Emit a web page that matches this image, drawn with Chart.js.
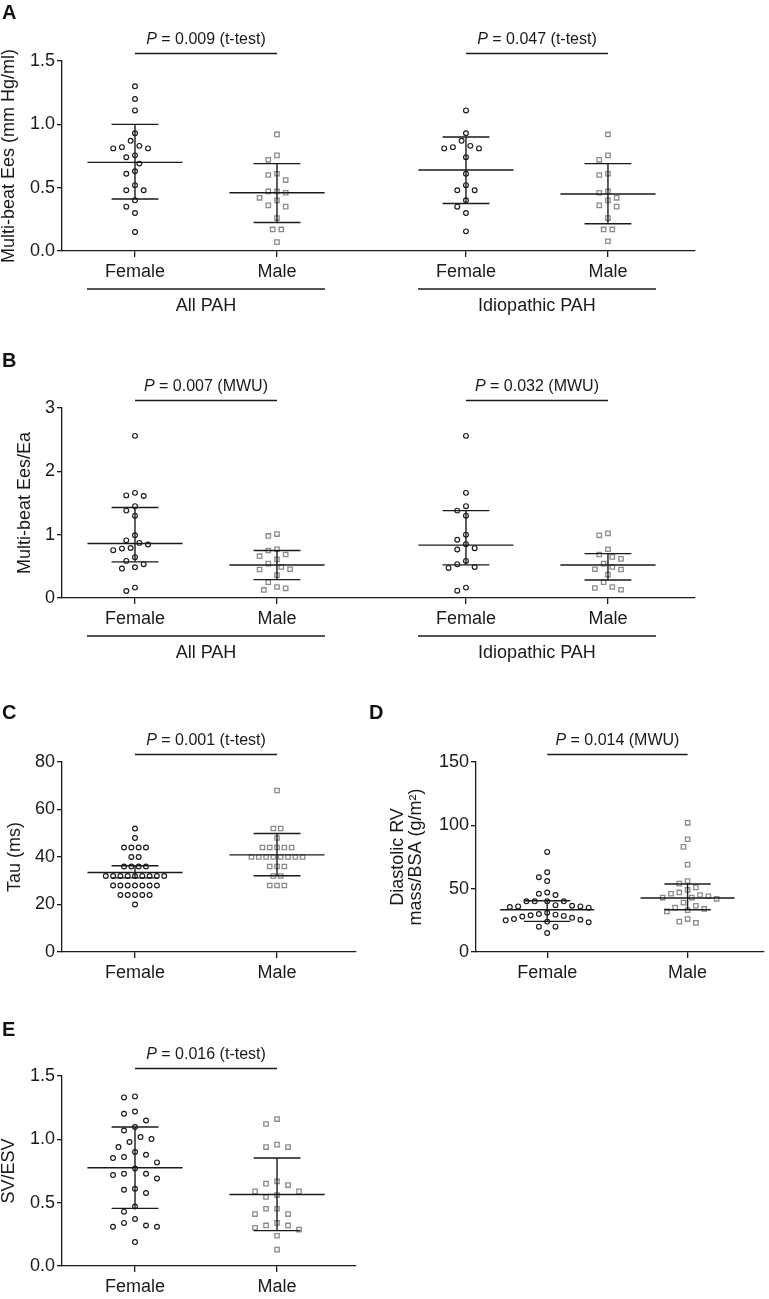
<!DOCTYPE html>
<html>
<head>
<meta charset="utf-8">
<script src="https://cdn.jsdelivr.net/npm/chart.js@4.4.1/dist/chart.umd.min.js"></script>
<style>
  body { margin: 0; background: #fff; }
  #fig { position: relative; width: 769px; height: 1299px; overflow: hidden; font-family: 'Liberation Sans', Arial, sans-serif; }
  #fig canvas { position: absolute; }
  .letter { position: absolute; font-weight: bold; font-size: 20px; line-height: 20px; color: #111; }
</style>
</head>
<body>
<div id="fig">
  <canvas id="chartA" width="769" height="320" style="left:0;top:0"></canvas>
  <canvas id="chartB" width="769" height="350" style="left:0;top:320px"></canvas>
  <canvas id="chartC" width="380" height="320" style="left:0;top:680px"></canvas>
  <canvas id="chartD" width="389" height="320" style="left:380px;top:680px"></canvas>
  <canvas id="chartE" width="380" height="299" style="left:0;top:1000px"></canvas>
  <div class="letter" style="left:2px;top:2px">A</div>
  <div class="letter" style="left:2px;top:350px">B</div>
  <div class="letter" style="left:2px;top:702px">C</div>
  <div class="letter" style="left:369px;top:702px">D</div>
  <div class="letter" style="left:2px;top:1019px">E</div>
</div>
<script>
// ---- data ----
const sexLabels = ['Female', 'Male']

// A: multi-beat Ees (mm Hg/ml)
const eesFemaleAll = [1.30, 1.20, 1.11, 0.93, 0.87, 0.83, 0.82, 0.81, 0.81, 0.755, 0.74, 0.69, 0.63, 0.61, 0.52, 0.48, 0.48, 0.40, 0.35, 0.30, 0.15]
const eesMaleAll = [0.92, 0.755, 0.72, 0.61, 0.60, 0.56, 0.47, 0.47, 0.46, 0.42, 0.40, 0.36, 0.35, 0.26, 0.17, 0.17, 0.07]
const eesFemaleIdio = [1.11, 0.93, 0.87, 0.83, 0.82, 0.81, 0.81, 0.74, 0.61, 0.52, 0.48, 0.48, 0.40, 0.35, 0.30, 0.155]
const eesMaleIdio = [0.92, 0.755, 0.72, 0.61, 0.60, 0.47, 0.46, 0.42, 0.40, 0.36, 0.35, 0.26, 0.17, 0.17, 0.077]
// [centre, lower, upper] of the error bars
const eesFemaleAllBar = [0.70, 0.41, 1.00]
const eesMaleAllBar = [0.46, 0.225, 0.69]
const eesFemaleIdioBar = [0.64, 0.375, 0.90]
const eesMaleIdioBar = [0.45, 0.215, 0.69]

// B: multi-beat Ees/Ea
const ratioFemaleAll = [2.56, 1.66, 1.62, 1.61, 1.45, 1.38, 1.30, 0.99, 0.91, 0.87, 0.845, 0.79, 0.78, 0.755, 0.645, 0.586, 0.534, 0.486, 0.465, 0.164, 0.111]
const ratioMaleAll = [1.01, 0.98, 0.77, 0.75, 0.687, 0.66, 0.61, 0.544, 0.49, 0.454, 0.45, 0.36, 0.25, 0.174, 0.153, 0.127]
const ratioFemaleIdio = [2.56, 1.66, 1.45, 1.38, 1.30, 1.00, 0.92, 0.85, 0.787, 0.766, 0.586, 0.534, 0.49, 0.475, 0.164, 0.116]
const ratioMaleIdio = [1.02, 0.99, 0.77, 0.687, 0.65, 0.618, 0.544, 0.49, 0.454, 0.45, 0.37, 0.25, 0.174, 0.158, 0.13]
const ratioFemaleAllBar = [0.86, 0.57, 1.43]
const ratioMaleAllBar = [0.52, 0.29, 0.75]
const ratioFemaleIdioBar = [0.835, 0.523, 1.38]
const ratioMaleIdioBar = [0.52, 0.285, 0.70]

// C: Tau (ms)
const tauFemale = [52, 48, 44, 44, 44, 44, 40, 40, 36, 36, 36, 36, 32, 32, 32, 32, 32, 32, 32, 32, 32, 28, 28, 28, 28, 28, 28, 28, 24, 24, 24, 24, 24, 20]
const tauMale = [68, 52, 52, 48, 44, 44, 44, 44, 44, 40, 40, 40, 40, 40, 40, 40, 40, 36, 36, 36, 32, 32, 28, 28, 28]
const tauFemaleBar = [33.5, 31.2, 36.3]
const tauMaleBar = [40.9, 32.1, 49.9]

// D: diastolic RV mass/BSA (g/m2)
const massFemale = [79, 63, 59, 56, 47, 46, 45, 40, 40, 40, 40, 37, 36.5, 36, 36, 35.5, 35, 31, 30, 29.5, 29, 28.5, 28, 27, 26, 25.5, 25, 24, 23.5, 20, 20, 15]
const massMale = [102, 89, 83, 69, 56, 54, 51, 49, 47, 46, 45, 44, 43, 43, 42, 39, 36.5, 35, 34, 33, 32, 26, 24, 23]
const massFemaleBar = [33.4, 24.2, 40.5]
const massMaleBar = [42.6, 33.4, 53.7]

// E: SV/ESV
const svFemale = [1.339, 1.331, 1.22, 1.202, 1.149, 1.097, 1.07, 1.018, 1.002, 0.979, 0.939, 0.90, 0.878, 0.86, 0.852, 0.818, 0.77, 0.728, 0.728, 0.718, 0.691, 0.61, 0.602, 0.576, 0.47, 0.429, 0.371, 0.34, 0.32, 0.31, 0.31, 0.189]
const svMale = [1.16, 1.121, 0.958, 0.939, 0.939, 0.668, 0.65, 0.639, 0.589, 0.589, 0.56, 0.545, 0.452, 0.452, 0.41, 0.41, 0.34, 0.32, 0.32, 0.302, 0.287, 0.239, 0.129]
const svFemaleBar = [0.776, 0.455, 1.097]
const svMaleBar = [0.565, 0.279, 0.853]

// ---- drawing ----
const FONT = "'Liberation Sans', Arial, Helvetica, sans-serif"
const INK = '#1a1a1a'
const GREY = '#8a8a8a'
const MEAN_HALF = 0.335
const CAP_HALF = 0.165

Chart.defaults.font.family = FONT
Chart.defaults.color = INK

const femaleStyle = { pointStyle: 'circle', pointRadius: 2.4, borderColor: INK, borderWidth: 1.15, backgroundColor: 'rgba(0,0,0,0)' }
const maleStyle = { pointStyle: 'rect', pointRadius: 3.1, borderColor: GREY, borderWidth: 1.3, backgroundColor: 'rgba(0,0,0,0)' }

function hline(ctx, x1, x2, y) {
  ctx.beginPath()
  ctx.moveTo(x1, y)
  ctx.lineTo(x2, y)
  ctx.stroke()
}

const notes = {
  id: 'notes',
  afterDraw(chart, args, opts) {
    const { ctx, chartArea } = chart
    const x = chart.scales.x
    ctx.save()
    ctx.strokeStyle = INK
    ctx.fillStyle = INK
    ctx.lineWidth = 1.3
    ctx.textBaseline = 'middle'
    for (const b of opts.brackets || []) {
      const x1 = x.getPixelForValue(b.from)
      const x2 = x.getPixelForValue(b.to)
      const y = chartArea.top - 7.5
      hline(ctx, x1, x2, y)
      const rest = ' = ' + b.text
      ctx.font = 'italic 16px ' + FONT
      const wp = ctx.measureText('P').width
      ctx.font = '16px ' + FONT
      const wr = ctx.measureText(rest).width
      const tx = (x1 + x2) / 2 - (wp + wr) / 2
      ctx.textAlign = 'left'
      ctx.font = 'italic 16px ' + FONT
      ctx.fillText('P', tx, y - 14)
      ctx.font = '16px ' + FONT
      ctx.fillText(rest, tx + wp, y - 14)
    }
    for (const g of opts.groups || []) {
      const x1 = x.getPixelForValue(g.from - 0.338)
      const x2 = x.getPixelForValue(g.to + 0.338)
      const y = chartArea.bottom + 38
      hline(ctx, x1, x2, y)
      ctx.font = '18px ' + FONT
      ctx.textAlign = 'center'
      ctx.fillText(g.text, (x1 + x2) / 2, y + 17)
    }
    ctx.restore()
  }
}

function barSegments(at, bar) {
  const [mid, lo, hi] = bar
  const gap = { x: at, y: null }
  return [
    { x: at - MEAN_HALF, y: mid }, { x: at + MEAN_HALF, y: mid }, gap,
    { x: at - CAP_HALF, y: hi }, { x: at + CAP_HALF, y: hi }, gap,
    { x: at - CAP_HALF, y: lo }, { x: at + CAP_HALF, y: lo }, gap,
    { x: at, y: lo }, { x: at, y: hi }
  ]
}

// spread the points sideways so they do not overlap (like a dot plot)
function swarm(chart, gapPx) {
  const xs = chart.scales.x
  const ys = chart.scales.y
  const step = gapPx / 2
  const hits = (p, off, others) => others.some(q => q !== p && Math.hypot(q.off - off, q.py - p.py) < gapPx - 0.01)
  for (const ds of chart.data.datasets) {
    if (!ds.values) continue
    const cx = xs.getPixelForValue(ds.at)
    const pts = ds.values.map(v => ({ v, py: ys.getPixelForValue(v), off: 0 }))
    const placed = []
    for (const p of [...pts].sort((a, b) => b.v - a.v)) {
      for (let k = 0; k < 200; k++) {
        const off = (k % 2 ? -1 : 1) * Math.ceil(k / 2) * step
        if (!hits(p, off, placed)) {
          p.off = off
          break
        }
      }
      placed.push(p)
    }
    // equal readings sit on one centred row
    const rows = {}
    for (const p of pts) (rows[p.v] = rows[p.v] || []).push(p)
    for (const row of Object.values(rows)) {
      if (row.length < 2) continue
      const mid = row.reduce((s, p) => s + p.off, 0) / row.length
      const rest = pts.filter(p => !row.includes(p))
      if (row.every(p => !hits(p, p.off - mid, rest))) row.forEach(p => { p.off -= mid })
    }
    ds.data = pts.map(p => ({ x: xs.getValueForPixel(cx + p.off), y: p.v }))
  }
}

function panel(id, opt) {
  const datasets = []
  for (const s of opt.series) {
    datasets.push({
      type: 'line',
      data: barSegments(s.at, s.bar),
      borderColor: INK,
      borderWidth: 1.4,
      pointRadius: 0,
      order: 0
    })
  }
  for (const s of opt.series) {
    datasets.push({
      type: 'scatter',
      values: s.values,
      at: s.at,
      data: s.values.map(v => ({ x: s.at, y: v })),
      ...(s.male ? maleStyle : femaleStyle),
      order: 1
    })
  }
  const chart = new Chart(document.getElementById(id), {
    type: 'scatter',
    data: { datasets },
    options: {
      responsive: false,
      animation: false,
      events: [],
      layout: { padding: { top: opt.top, right: opt.right, left: 0, bottom: 0 } },
      plugins: {
        legend: { display: false },
        tooltip: { enabled: false },
        notes: { brackets: opt.brackets, groups: opt.groups }
      },
      scales: {
        x: {
          type: 'linear',
          min: opt.xMin,
          max: opt.xMax,
          afterBuildTicks: s => { s.ticks = opt.ticks.map(v => ({ value: v })) },
          afterFit: s => { s.height = opt.xHeight },
          grid: { drawOnChartArea: false, tickLength: 6, color: INK, lineWidth: 1.3 },
          border: { color: INK, width: 1.3 },
          ticks: {
            font: { size: 18 },
            color: INK,
            padding: 4,
            maxRotation: 0,
            autoSkip: false,
            callback: (v, i) => sexLabels[i % 2]
          }
        },
        y: {
          min: 0,
          max: opt.yMax,
          afterFit: s => { s.width = opt.yWidth },
          grid: { drawOnChartArea: false, tickLength: 5, color: INK, lineWidth: 1.3 },
          border: { color: INK, width: 1.3 },
          ticks: {
            stepSize: opt.yStep,
            font: { size: 18 },
            color: INK,
            padding: 2,
            callback: v => v.toFixed(opt.decimals)
          },
          title: {
            display: true,
            text: opt.title,
            color: INK,
            font: { size: 18, lineHeight: 1 },
            padding: { top: opt.titlePad, bottom: 0 }
          }
        }
      }
    },
    plugins: [notes]
  })
  swarm(chart, opt.spread)
  chart.update('none')
}

const wideTicks = [1, 2, 3.331, 4.331]

panel('chartA', {
  top: 61, right: 74, yWidth: 62, xHeight: 69, spread: 8.7,
  xMin: 0.486, xMax: 4.944, ticks: wideTicks,
  yMax: 1.5, yStep: 0.5, decimals: 1,
  title: 'Multi-beat Ees (mm Hg/ml)', titlePad: 0,
  series: [
    { at: 1, values: eesFemaleAll, bar: eesFemaleAllBar },
    { at: 2, values: eesMaleAll, bar: eesMaleAllBar, male: true },
    { at: 3.331, values: eesFemaleIdio, bar: eesFemaleIdioBar },
    { at: 4.331, values: eesMaleIdio, bar: eesMaleIdioBar, male: true }
  ],
  brackets: [
    { from: 1, to: 2, text: '0.009 (t-test)' },
    { from: 3.331, to: 4.331, text: '0.047 (t-test)' }
  ],
  groups: [
    { from: 1, to: 2, text: 'All PAH' },
    { from: 3.331, to: 4.331, text: 'Idiopathic PAH' }
  ]
})

panel('chartB', {
  top: 88, right: 74, yWidth: 62, xHeight: 72, spread: 8.7,
  xMin: 0.486, xMax: 4.944, ticks: wideTicks,
  yMax: 3, yStep: 1, decimals: 0,
  title: 'Multi-beat Ees/Ea', titlePad: 16,
  series: [
    { at: 1, values: ratioFemaleAll, bar: ratioFemaleAllBar },
    { at: 2, values: ratioMaleAll, bar: ratioMaleAllBar, male: true },
    { at: 3.331, values: ratioFemaleIdio, bar: ratioFemaleIdioBar },
    { at: 4.331, values: ratioMaleIdio, bar: ratioMaleIdioBar, male: true }
  ],
  brackets: [
    { from: 1, to: 2, text: '0.007 (MWU)' },
    { from: 3.331, to: 4.331, text: '0.032 (MWU)' }
  ],
  groups: [
    { from: 1, to: 2, text: 'All PAH' },
    { from: 3.331, to: 4.331, text: 'Idiopathic PAH' }
  ]
})

panel('chartC', {
  top: 82, right: 24, yWidth: 62, xHeight: 48, spread: 7.3,
  xMin: 0.486, xMax: 2.556, ticks: [1, 2],
  yMax: 80, yStep: 20, decimals: 0,
  title: 'Tau (ms)', titlePad: 6,
  series: [
    { at: 1, values: tauFemale, bar: tauFemaleBar },
    { at: 2, values: tauMale, bar: tauMaleBar, male: true }
  ],
  brackets: [{ from: 1, to: 2, text: '0.001 (t-test)' }]
})

panel('chartD', {
  top: 82, right: 2, yWidth: 96, xHeight: 48, spread: 8.3,
  xMin: 0.493, xMax: 2.542, ticks: [1, 2],
  yMax: 150, yStep: 50, decimals: 0,
  title: ['Diastolic RV', 'mass/BSA (g/m²)'], titlePad: 9,
  series: [
    { at: 1, values: massFemale, bar: massFemaleBar },
    { at: 2, values: massMale, bar: massMaleBar, male: true }
  ],
  brackets: [{ from: 1, to: 2, text: '0.014 (MWU)' }]
})

panel('chartE', {
  top: 76, right: 24, yWidth: 62, xHeight: 33, spread: 11,
  xMin: 0.486, xMax: 2.556, ticks: [1, 2],
  yMax: 1.5, yStep: 0.5, decimals: 1,
  title: 'SV/ESV', titlePad: 0,
  series: [
    { at: 1, values: svFemale, bar: svFemaleBar },
    { at: 2, values: svMale, bar: svMaleBar, male: true }
  ],
  brackets: [{ from: 1, to: 2, text: '0.016 (t-test)' }]
})
</script>
</body>
</html>
